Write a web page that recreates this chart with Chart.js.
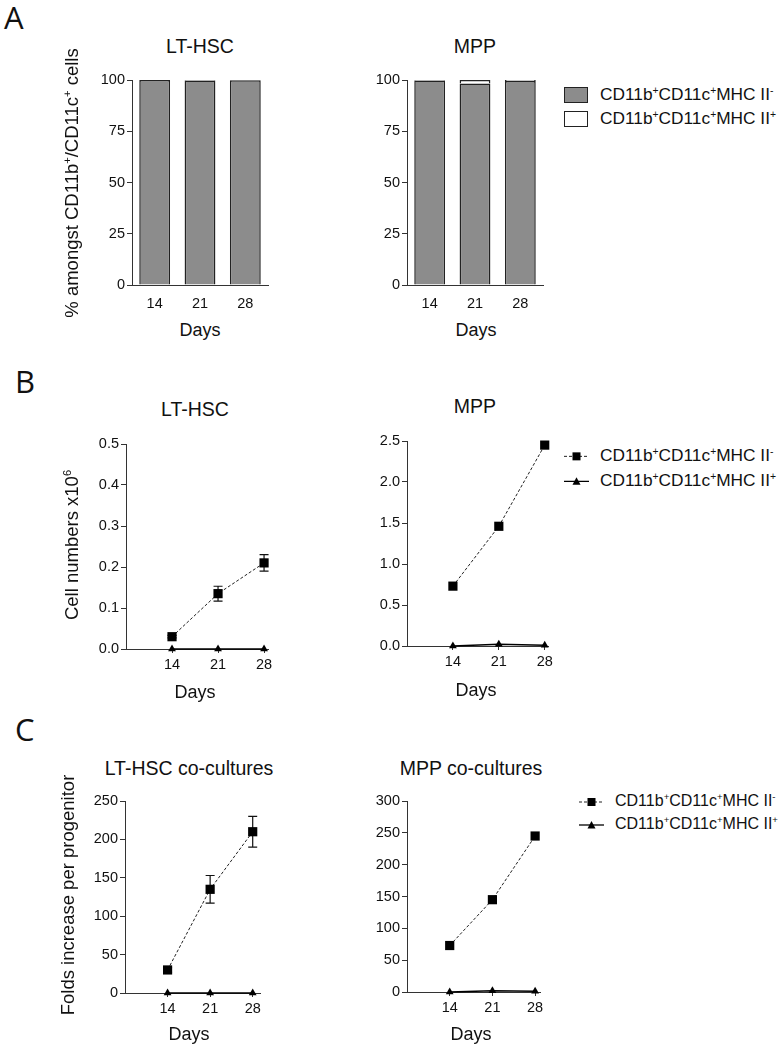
<!DOCTYPE html>
<html>
<head>
<meta charset="utf-8">
<script src="https://cdn.jsdelivr.net/npm/chart.js@4.4.1/dist/chart.umd.min.js"></script>
<style>
  body { margin: 0; background: #fff; font-family: "Liberation Sans", Arial, sans-serif; color: #111; }
  #fig { position: relative; width: 784px; height: 1049px; overflow: hidden; }
  canvas, .t { position: absolute; }
  .t { white-space: nowrap; line-height: 1; }
  .c { transform: translate(-50%, -50%); }
  .ttl { font-size: 19.5px; }
  .days { font-size: 18px; }
  .ylab { font-size: 18.5px; transform: translate(-50%, -50%) rotate(-90deg); }
  .letter { font-family: "Open Sans", sans-serif; font-size: 31px; }
  .leg { font-size: 17.3px; transform: translateY(-50%); }
  .leg.small { font-size: 16px; }
  .leg svg { vertical-align: middle; margin-right: 11px; }
  sup { font-size: 0.6em; vertical-align: 0.6em; line-height: 0; }
  .box { position: absolute; width: 24px; height: 16px; border: 1.5px solid #222; box-sizing: border-box; }
</style>
</head>
<body>
<div id="fig">
  <div class="t letter" style="left:4px;top:2px">A</div>
  <div class="t letter" style="left:15px;top:366px">B</div>
  <div class="t letter" style="left:15px;top:714px">C</div>

  <canvas id="aLt"></canvas>
  <canvas id="aMpp"></canvas>
  <canvas id="bLt"></canvas>
  <canvas id="bMpp"></canvas>
  <canvas id="cLt"></canvas>
  <canvas id="cMpp"></canvas>

  <div class="t c ttl" style="left:200px;top:47px">LT-HSC</div>
  <div class="t c ttl" style="left:475px;top:47px">MPP</div>
  <div class="t c ttl" style="left:195px;top:410px">LT-HSC</div>
  <div class="t c ttl" style="left:475px;top:407px">MPP</div>
  <div class="t c ttl" style="left:189px;top:769px">LT-HSC co-cultures</div>
  <div class="t c ttl" style="left:471px;top:769px">MPP co-cultures</div>

  <div class="t c days" style="left:200px;top:330px">Days</div>
  <div class="t c days" style="left:476px;top:330px">Days</div>
  <div class="t c days" style="left:195px;top:692px">Days</div>
  <div class="t c days" style="left:476px;top:690px">Days</div>
  <div class="t c days" style="left:189px;top:1034px">Days</div>
  <div class="t c days" style="left:471px;top:1034px">Days</div>

  <div class="t ylab" style="left:72px;top:183px">% amongst CD11b<sup>+</sup>/CD11c<sup>+</sup> cells</div>
  <div class="t ylab" style="left:72px;top:545px">Cell numbers x10<sup>6</sup></div>
  <div class="t ylab" style="left:68px;top:895px">Folds increase per progenitor</div>

  <!-- legend A -->
  <div class="box" style="left:564px;top:87px;background:#8c8c8c"></div>
  <div class="box" style="left:564px;top:111px;background:#fff"></div>
  <div class="t leg" style="left:600px;top:95px">CD11b<sup>+</sup>CD11c<sup>+</sup>MHC II<sup>-</sup></div>
  <div class="t leg" style="left:600px;top:119px">CD11b<sup>+</sup>CD11c<sup>+</sup>MHC II<sup>+</sup></div>

  <!-- legend B -->
  <div class="t leg" style="left:564px;top:456px"><svg width="25" height="12"><line x1="0" y1="6" x2="25" y2="6" stroke="#222" stroke-dasharray="3,2"/><rect x="8.5" y="2" width="8" height="8" fill="#000"/></svg>CD11b<sup>+</sup>CD11c<sup>+</sup>MHC II<sup>-</sup></div>
  <div class="t leg" style="left:564px;top:481px"><svg width="25" height="12"><line x1="0" y1="6" x2="25" y2="6" stroke="#000" stroke-width="1.3"/><path d="M12.5 2 L16.5 9.5 L8.5 9.5 Z" fill="#000"/></svg>CD11b<sup>+</sup>CD11c<sup>+</sup>MHC II<sup>+</sup></div>

  <!-- legend C -->
  <div class="t leg small" style="left:579px;top:801px"><svg width="25" height="12"><line x1="0" y1="6" x2="25" y2="6" stroke="#222" stroke-dasharray="3,2"/><rect x="8.5" y="2" width="8" height="8" fill="#000"/></svg>CD11b<sup>+</sup>CD11c<sup>+</sup>MHC II<sup>-</sup></div>
  <div class="t leg small" style="left:579px;top:824px"><svg width="25" height="12"><line x1="0" y1="6" x2="25" y2="6" stroke="#000" stroke-width="1.3"/><path d="M12.5 2 L16.5 9.5 L8.5 9.5 Z" fill="#000"/></svg>CD11b<sup>+</sup>CD11c<sup>+</sup>MHC II<sup>+</sup></div>
</div>

<script>
// days and values
const days = [14, 21, 28];

const aLtNeg = [100, 99.8, 99.9];
const aLtPos = [0, 0.2, 0.1];
const aMppNeg = [99.8, 98.3, 99.5];
const aMppPos = [0.2, 1.7, 0.5];
const aTicks = [0, 25, 50, 75, 100];

const bLtNeg = [0.03, 0.135, 0.21];
const bLtNegErr = [0.003, 0.018, 0.02];
const bLtPos = [0, 0, 0];
const bLtTicks = [0, 0.1, 0.2, 0.3, 0.4, 0.5];
const bMppNeg = [0.73, 1.46, 2.45];
const bMppPos = [0, 0.02, 0.01];
const bMppTicks = [0, 0.5, 1.0, 1.5, 2.0, 2.5];

const cLtNeg = [30, 135, 210];
const cLtNegErr = [3, 18, 20];
const cLtPos = [0, 0, 0];
const cLtTicks = [0, 50, 100, 150, 200, 250];
const cMppNeg = [73, 145, 245];
const cMppPos = [0, 2, 1];
const cMppTicks = [0, 50, 100, 150, 200, 250, 300];

Chart.defaults.font.family = '"Liberation Sans", Arial, sans-serif';
Chart.defaults.color = '#111';

const YW = 60, PT = 15, PR = 15, XH = 35;
const TICK_FONT = { size: 14.5 };

// sit the canvas so that the plot area lands on the given box
function place(id, box) {
  const cv = document.getElementById(id);
  cv.width = box.r - box.l + YW + PR;
  cv.height = box.b - box.t + PT + XH;
  cv.style.left = (box.l - YW) + 'px';
  cv.style.top = (box.t - PT) + 'px';
  return cv;
}

const errorBars = {
  id: 'errorBars',
  beforeDatasetsDraw(chart) {
    const ctx = chart.ctx;
    const ys = chart.scales.y;
    chart.data.datasets.forEach((ds, i) => {
      if (!ds.errors) return;
      chart.getDatasetMeta(i).data.forEach((pt, j) => {
        const e = ds.errors[j];
        if (!e) return;
        const v = ds.data[j].y;
        const top = ys.getPixelForValue(v + e);
        const bot = ys.getPixelForValue(v - e);
        ctx.save();
        ctx.strokeStyle = '#111';
        ctx.lineWidth = 1.2;
        ctx.beginPath();
        ctx.moveTo(pt.x, top); ctx.lineTo(pt.x, bot);
        ctx.moveTo(pt.x - 4.5, top); ctx.lineTo(pt.x + 4.5, top);
        ctx.moveTo(pt.x - 4.5, bot); ctx.lineTo(pt.x + 4.5, bot);
        ctx.stroke();
        ctx.restore();
      });
    });
  }
};

function yAxis(ticks, dec) {
  return {
    min: ticks[0], max: ticks[ticks.length - 1],
    afterFit: s => { s.width = YW; },
    afterBuildTicks: s => { s.ticks = ticks.map(v => ({ value: v })); },
    ticks: { font: TICK_FONT, padding: 2, color: '#111', callback: v => v.toFixed(dec) },
    grid: { drawOnChartArea: false, tickLength: 5, color: '#333' },
    border: { color: '#333', width: 1 }
  };
}

function barChart(id, box, neg, pos) {
  new Chart(place(id, box), {
    type: 'bar',
    data: {
      labels: days.map(String),
      datasets: [
        { data: neg, backgroundColor: '#8c8c8c', borderColor: '#222', borderWidth: 1.5 },
        { data: pos, backgroundColor: '#fff', borderColor: '#222', borderWidth: 1.5 }
      ]
    },
    options: {
      responsive: false, animation: false, devicePixelRatio: 1,
      barPercentage: 0.68, categoryPercentage: 1,
      layout: { padding: { top: PT, right: PR, left: 0, bottom: 0 } },
      plugins: { legend: { display: false }, tooltip: { enabled: false } },
      scales: {
        x: {
          stacked: true,
          afterFit: s => { s.height = XH; },
          ticks: { font: TICK_FONT, padding: 2, color: '#111' },
          grid: { display: false },
          border: { color: '#333', width: 1 }
        },
        y: Object.assign(yAxis(aTicks, 0), { stacked: true })
      }
    }
  });
}

function lineChart(id, box, xmax, neg, negErr, pos, ticks, dec) {
  new Chart(place(id, box), {
    type: 'line',
    data: {
      datasets: [
        {
          data: days.map((d, i) => ({ x: d, y: neg[i] })),
          errors: negErr,
          borderColor: '#222', borderWidth: 1, borderDash: [3, 2],
          pointStyle: 'rect', pointRadius: 6.5, pointBackgroundColor: '#000', pointBorderColor: '#000', pointBorderWidth: 0,
          clip: false
        },
        {
          data: days.map((d, i) => ({ x: d, y: pos[i] })),
          borderColor: '#000', borderWidth: 1.5,
          pointStyle: 'triangle', pointRadius: 4.5, pointBackgroundColor: '#000', pointBorderColor: '#000', pointBorderWidth: 0,
          clip: false
        }
      ]
    },
    options: {
      responsive: false, animation: false, devicePixelRatio: 1,
      layout: { padding: { top: PT, right: PR, left: 0, bottom: 0 } },
      plugins: { legend: { display: false }, tooltip: { enabled: false } },
      scales: {
        x: {
          type: 'linear', min: 7, max: xmax,
          afterFit: s => { s.height = XH; },
          afterBuildTicks: s => { s.ticks = days.map(v => ({ value: v })); },
          ticks: { font: TICK_FONT, padding: 3, color: '#111' },
          grid: { drawOnChartArea: false, tickLength: 4, color: '#333' },
          border: { color: '#333', width: 1 }
        },
        y: yAxis(ticks, dec)
      }
    },
    plugins: [errorBars]
  });
}

barChart('aLt', { l: 132, t: 80, r: 268, b: 285 }, aLtNeg, aLtPos);
barChart('aMpp', { l: 407, t: 80, r: 543, b: 285 }, aMppNeg, aMppPos);

lineChart('bLt', { l: 126, t: 444, r: 268, b: 649 }, 28.6, bLtNeg, bLtNegErr, bLtPos, bLtTicks, 1);
lineChart('bMpp', { l: 407, t: 441, r: 548, b: 646 }, 28.5, bMppNeg, null, bMppPos, bMppTicks, 1);

lineChart('cLt', { l: 125, t: 801, r: 260, b: 993 }, 29.2, cLtNeg, cLtNegErr, cLtPos, cLtTicks, 0);
lineChart('cMpp', { l: 407, t: 801, r: 540, b: 992 }, 28.8, cMppNeg, null, cMppPos, cMppTicks, 0);
</script>
</body>
</html>
